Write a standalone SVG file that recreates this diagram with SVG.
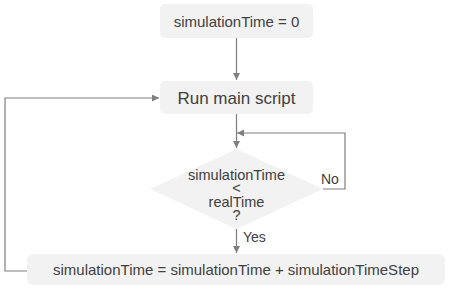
<svg xmlns="http://www.w3.org/2000/svg" width="450" height="293" viewBox="0 0 450 293">
<defs>
<marker id="ah" markerWidth="8" markerHeight="8" refX="7" refY="3.5" orient="auto" markerUnits="userSpaceOnUse">
<path d="M0,0 L7,3.5 L0,7 Z" fill="#7f7f7f"/>
</marker>
<style>
.box{fill:#f2f2f2;stroke:none}
.t{font-family:"Liberation Sans",Arial,sans-serif;fill:#404040;text-anchor:middle}
.c{fill:none;stroke:#7f7f7f;stroke-width:1.2;marker-end:url(#ah)}
.l{font-family:"Liberation Sans",Arial,sans-serif;fill:#404040;font-size:14px}
</style>
</defs>
<rect width="450" height="293" fill="#ffffff"/>
<g id="connectors">
<path class="c" d="M236.5,38 V80"/>
<path class="c" d="M236.5,114 V148"/>
<path class="c" d="M323,189 H345 V133 H237"/>
<path class="c" d="M236.5,229 V253"/>
<path class="c" d="M27,271 H5 V98 H159"/>
<text class="l" x="321" y="184">No</text>
<text class="l" x="243" y="242">Yes</text>
</g>
<g id="init">
<rect class="box" x="160" y="4" width="153" height="34" rx="5"/>
<text class="t" x="236.5" y="27" font-size="15">simulationTime = 0</text>
</g>
<g id="run">
<rect class="box" x="160" y="81" width="153" height="33" rx="5"/>
<text class="t" x="236.5" y="104" font-size="17">Run main script</text>
</g>
<g id="decision">
<polygon class="box" points="236.5,149 323,189 236.5,229 150,189"/>
<text class="t" font-size="14.5"><tspan x="236.5" y="180">simulationTime</tspan><tspan x="236.5" y="193">&lt;</tspan><tspan x="236.5" y="207">realTime</tspan><tspan x="236.5" y="220">?</tspan></text>
</g>
<g id="update">
<rect class="box" x="27" y="254" width="418" height="31" rx="6"/>
<text class="t" x="236" y="275" font-size="15">simulationTime = simulationTime + simulationTimeStep</text>
</g>
</svg>
